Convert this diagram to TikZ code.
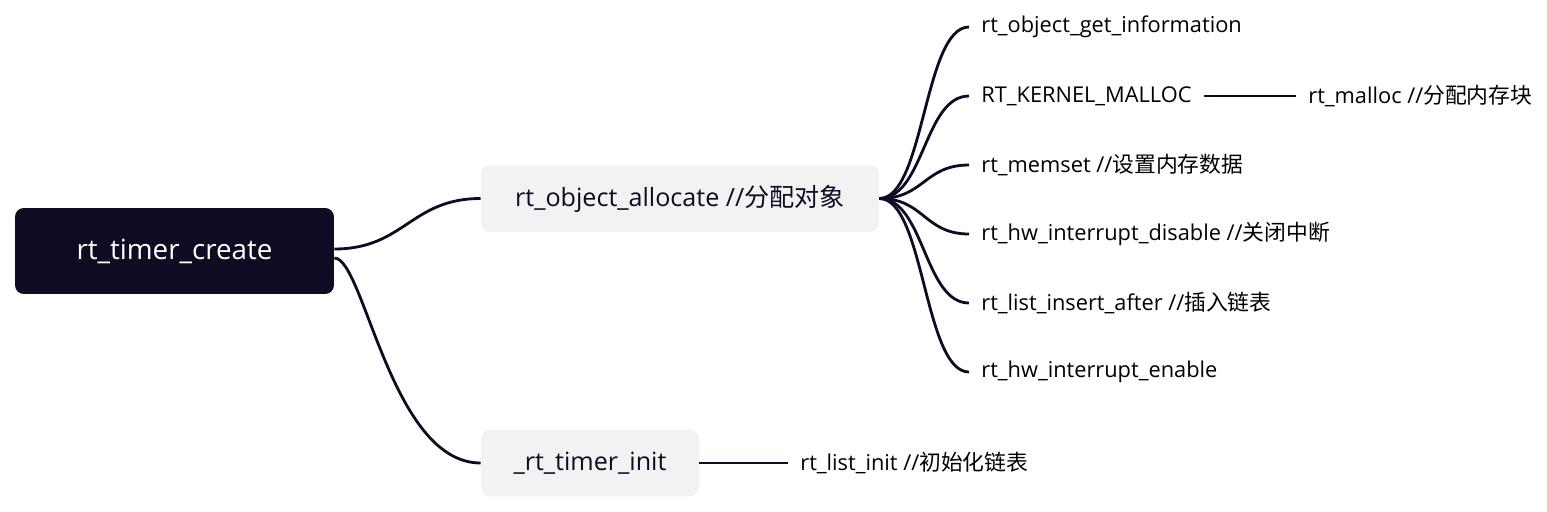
\documentclass[tikz,border=0pt]{standalone}
\usepackage{fontspec}
\setmainfont{Open Sans}
\newfontfamily\cjk{Noto Sans CJK SC}
\usetikzlibrary{calc}
\definecolor{rootdark}{RGB}{13,12,34}
\definecolor{boxgrey}{RGB}{242,242,242}
\tikzset{
  rootbox/.style={rectangle, rounded corners=5pt, fill=rootdark, text=white,
                  minimum width=6.38cm, minimum height=1.72cm,
                  font=\fontsize{15.8}{19}\selectfont},
  subbox/.style={rectangle, rounded corners=5pt, fill=boxgrey, text=rootdark,
                 minimum height=1.33cm, font=\fontsize{14.3}{17}\selectfont},
  leaf/.style={anchor=west, inner xsep=0.24cm, text=black,
               font=\fontsize{12.4}{15}\selectfont},
  link/.style={draw=rootdark, line width=1.6pt},
}

\begin{document}
\begin{tikzpicture}[x=0.02cm, y=-0.02cm]
  \useasboundingbox (0,0) rectangle (1547,511);

  % main nodes
  \node[rootbox] (create) at (174.5,251) {rt\_timer\_create};
  \node[subbox, minimum width=7.96cm] (alloc) at (680,198.5) {rt\_object\_allocate //{\cjk 分配对象}};
  \node[subbox, minimum width=4.36cm] (tinit) at (590,463) {\_rt\_timer\_init};

  \draw[link] ($(create.east)+(0,-2)$) .. controls +(70,0) and +(-70,0) .. (alloc.west);
  \draw[link] ($(create.east)+(0,7)$) .. controls +(30,0) and +(-90,0) .. (tinit.west);

  % calls inside rt_object_allocate
  \foreach \i/\y/\lbl in {
      1/27/{rt\_object\_get\_information},
      2/96/{RT\_KERNEL\_MALLOC},
      3/165/{rt\_memset //{\cjk 设置内存数据}},
      4/234/{rt\_hw\_interrupt\_disable //{\cjk 关闭中断}},
      5/303/{rt\_list\_insert\_after //{\cjk 插入链表}},
      6/372/{rt\_hw\_interrupt\_enable}}{
    \node[leaf] (l\i) at (969,\y) {\lbl};
    \draw[link] (alloc.east) .. controls +(45,0) and +(-45,0) .. (l\i.west);
  }

  \node[leaf] (malloc) at (1296,96) {rt\_malloc //{\cjk 分配内存块}};
  \draw[link] (l2.east) -- (l2.east -| malloc.west);

  \node[leaf] (listinit) at (788,463) {rt\_list\_init //{\cjk 初始化链表}};
  \draw[link] (tinit.east) -- (tinit.east -| listinit.west);
\end{tikzpicture}
\end{document}
